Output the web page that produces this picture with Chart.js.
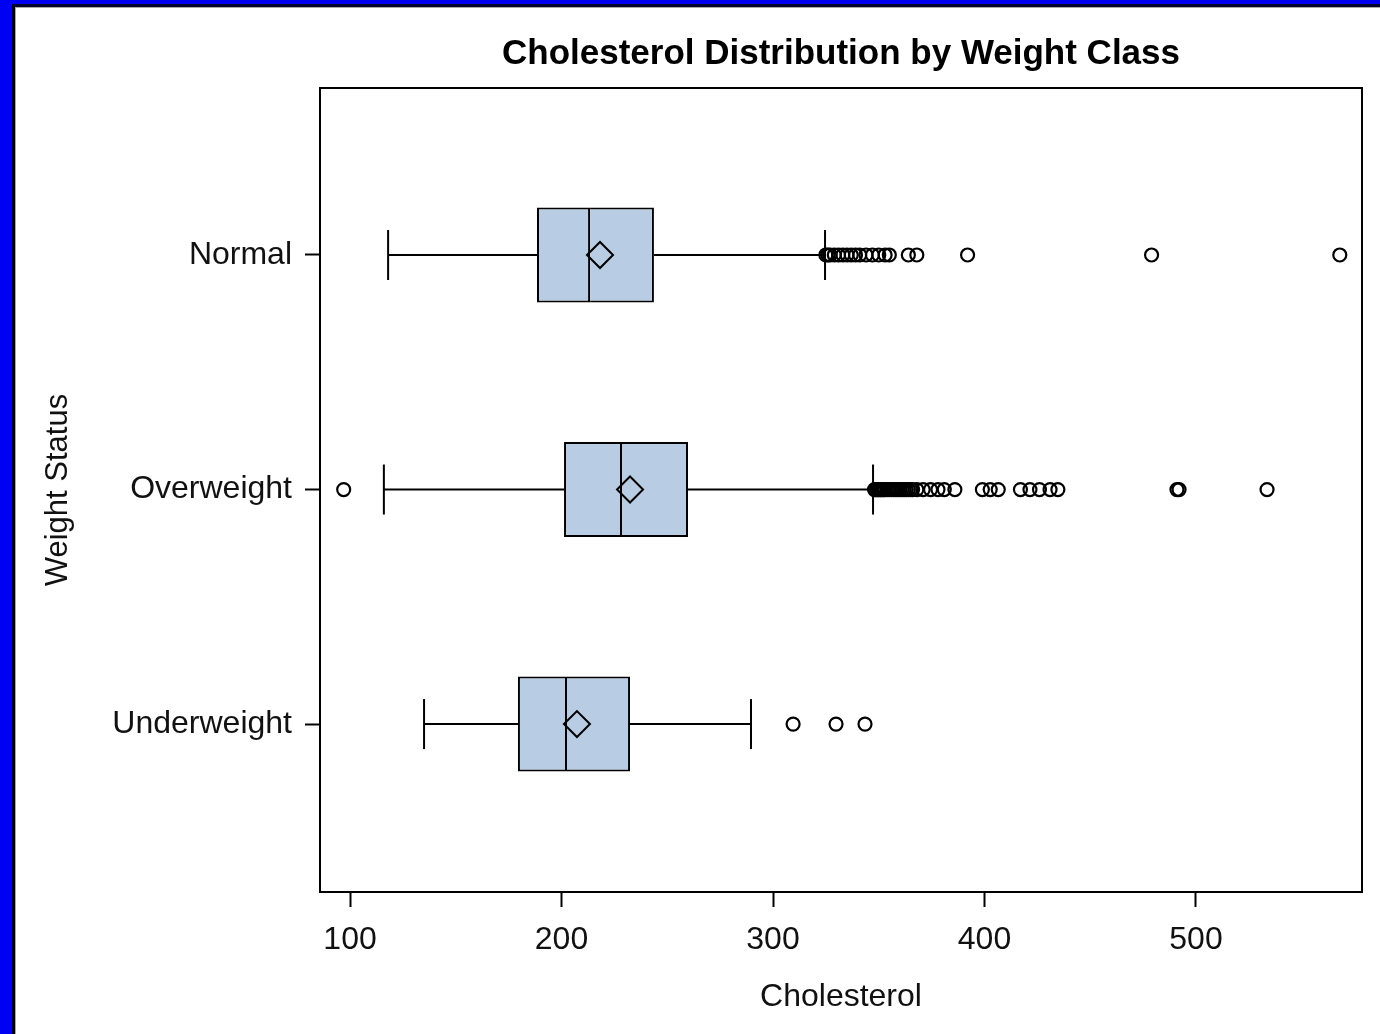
<!DOCTYPE html>
<html><head><meta charset="utf-8">
<script src="https://cdn.jsdelivr.net/npm/chart.js@4"></script>
<style>
html,body{margin:0;padding:0;width:1380px;height:1034px;overflow:hidden;background:#0000f2;}
#panel{position:absolute;left:12px;top:4px;width:1368px;height:1030px;background:#fff;border-left:3px solid #000;border-top:3px solid #05052a;box-sizing:border-box;box-shadow:inset 1px 1px 0 #aaa;}
#c{position:absolute;left:0;top:0;}
</style></head><body>
<div id="panel"></div>
<canvas id="c" width="1380" height="1034"></canvas>
<script>
const categories = ['Normal', 'Overweight', 'Underweight'];
const whiskerLow = [118, 116, 135];
const q1 = [188.4, 201.2, 179.4];
const median = [213.5, 228.6, 202.6];
const q3 = [243.7, 259.8, 232.4];
const whiskerHigh = [324.6, 347.3, 289.6];
const means = [218.2, 232.4, 207.3];
const outliersNormal = [325, 326, 327, 329, 331, 333, 335, 337, 339, 341, 344, 347, 350, 353, 355, 364, 368, 392, 479, 568];
const outliersOverweight = [97, 348, 348.5, 349, 349.5, 350, 350.5, 351, 351.5, 352, 352.5, 353, 354, 355, 356, 357, 358, 359, 360, 361, 362, 363, 364, 365, 366, 368, 371, 374.5, 378, 381, 386, 399, 402.7, 406.5, 417, 421.5, 426, 431, 434.7, 491, 492, 533.6];
const outliersUnderweight = [309.5, 329.8, 343.5];
const xTicks = [100, 200, 300, 400, 500];

const outlierGroups = [outliersNormal, outliersOverweight, outliersUnderweight];
const boxFill = '#b8cce4';
const ink = '#000';

const whiskerData = [];
categories.forEach((c, i) => {
  whiskerData.push({x: whiskerLow[i], y: i}, {x: q1[i], y: i}, {x: NaN, y: NaN});
  whiskerData.push({x: q3[i], y: i}, {x: whiskerHigh[i], y: i}, {x: NaN, y: NaN});
});
const capData = [];
categories.forEach((c, i) => { capData.push({x: whiskerLow[i], y: i}, {x: whiskerHigh[i], y: i}); });
const outlierData = [];
outlierGroups.forEach((g, i) => g.forEach(v => outlierData.push({x: v, y: i})));

const frame = {
  id: 'frame',
  afterDatasetsDraw(chart) {
    const {ctx, chartArea: a} = chart;
    ctx.save();
    ctx.strokeStyle = ink; ctx.lineWidth = 2;
    ctx.strokeRect(a.left, a.top, a.right - a.left, a.bottom - a.top);
    ctx.restore();
  }
};

const barCommon = {
  type: 'bar', indexAxis: 'y', backgroundColor: boxFill, borderColor: ink, borderWidth: 2,
  grouped: false, categoryPercentage: 0.405, barPercentage: 1, order: 4
};

new Chart(document.getElementById('c'), {
  type: 'scatter',
  data: {
    datasets: [
      Object.assign({}, barCommon, {borderSkipped: false, data: categories.map((c, i) => ({x: [q1[i], median[i]], y: i}))}),
      Object.assign({}, barCommon, {borderSkipped: 'left', data: categories.map((c, i) => ({x: [median[i], q3[i]], y: i}))}),
      {type: 'scatter', data: whiskerData, showLine: true, spanGaps: false, pointRadius: 0, borderColor: ink, borderWidth: 2, order: 3},
      {type: 'scatter', data: capData, pointStyle: 'line', rotation: 90, pointRadius: 25, borderColor: ink, borderWidth: 2, order: 2},
      {type: 'scatter', data: outlierData, pointStyle: 'circle', pointRadius: 6.5, borderColor: ink, borderWidth: 2.2, backgroundColor: 'rgba(0,0,0,0)', order: 1},
      {type: 'scatter', data: categories.map((c, i) => ({x: means[i], y: i})), pointStyle: 'rectRot', pointRadius: 13, borderColor: ink, borderWidth: 2, backgroundColor: 'rgba(0,0,0,0)', order: 0}
    ]
  },
  options: {
    responsive: false,
    animation: false,
    events: [],
    layout: {autoPadding: false, padding: {left: 20, right: 18, top: 0, bottom: 12}},
    plugins: {
      legend: {display: false},
      tooltip: {enabled: false},
      title: {
        display: true, text: 'Cholesterol Distribution by Weight Class', fullSize: false,
        color: '#000', font: {family: 'Liberation Sans', size: 35, weight: 'bold'},
        padding: {top: 33, bottom: 13}
      }
    },
    scales: {
      x: {
        type: 'linear', position: 'bottom', min: 85.8, max: 578.5, offset: false,
        afterBuildTicks: s => { s.ticks = xTicks.map(v => ({value: v})); },
        afterFit: s => { s.height = 130; s.paddingLeft = 0; s.paddingRight = 0; },
        border: {display: false},
        grid: {display: true, offset: false, drawOnChartArea: false, drawTicks: true, tickLength: 15, tickColor: ink, tickWidth: 2},
        ticks: {color: '#111', padding: 14, maxRotation: 0, autoSkip: false, font: {family: 'Liberation Sans', size: 32}, callback: v => String(v)},
        title: {display: true, text: 'Cholesterol', color: '#111', font: {family: 'Liberation Sans', size: 32}, padding: {top: 6, bottom: 6}}
      },
      y: {
        type: 'linear', position: 'left', min: -0.712, max: 2.716, reverse: true, offset: false,
        afterBuildTicks: s => { s.ticks = categories.map((c, i) => ({value: i})); },
        afterFit: s => { s.width = 300; s.paddingTop = 0; s.paddingBottom = 0; },
        border: {display: false},
        grid: {display: true, offset: false, drawOnChartArea: false, drawTicks: true, tickLength: 15, tickColor: ink, tickWidth: 2},
        ticks: {color: '#111', padding: 13, autoSkip: false, font: {family: 'Liberation Sans', size: 32}, callback: v => categories[v]},
        title: {display: true, text: 'Weight Status', color: '#111', font: {family: 'Liberation Sans', size: 31}, padding: {top: 20, bottom: 20}}
      }
    }
  },
  plugins: [frame]
});
</script>
</body></html>
